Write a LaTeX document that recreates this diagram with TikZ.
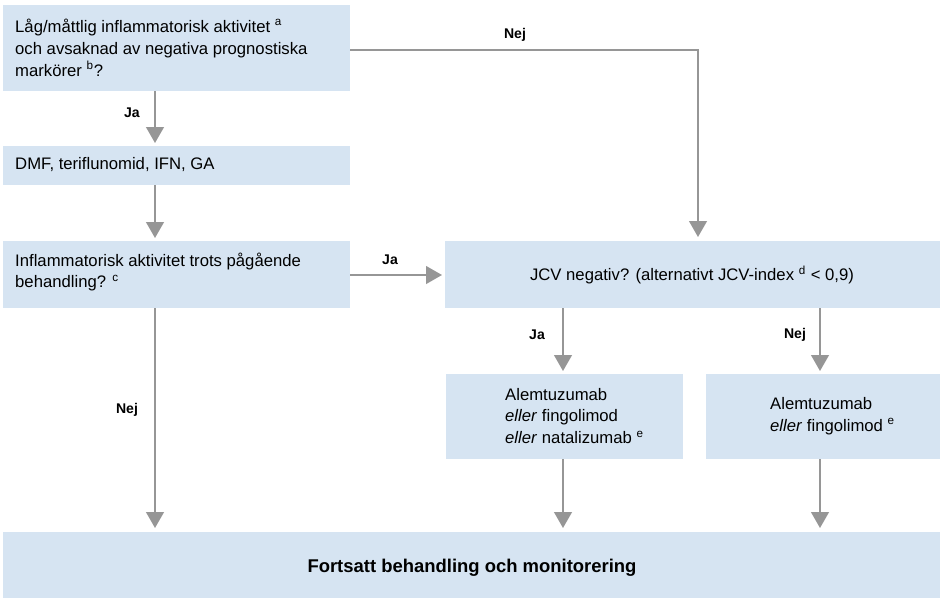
\documentclass[tikz,border=0pt]{standalone}
\usepackage{fontspec}
\setmainfont{Liberation Sans}
\usetikzlibrary{arrows.meta}
\definecolor{boxblue}{RGB}{214,228,242}
\definecolor{arrgray}{RGB}{150,150,150}
\tikzset{box/.style = {fill = boxblue, inner sep = 0},
  txt/.style = {align = left, anchor = west, font = \fontsize{9.5}{12.5}\selectfont},
  arr/.style = {draw = arrgray, line width = 1.1pt, -{Triangle[length = 9pt, width = 10pt]}},
  lab/.style = {font = \fontsize{8}{10}\selectfont\bfseries}}

\begin{document}
\begin{tikzpicture}[x = 0.02cm, y = -0.02cm]
    \useasboundingbox (0, 0) rectangle (943, 606);

    \fill [boxblue] (3, 5) rectangle (350, 91);
    \fill [boxblue] (3, 146) rectangle (350, 185);
    \fill [boxblue] (3, 241) rectangle (350, 308);
    \fill [boxblue] (445, 241) rectangle (940, 308);
    \fill [boxblue] (446, 374) rectangle (683, 459);
    \fill [boxblue] (706, 374) rectangle (940, 459);
    \fill [boxblue] (3, 532) rectangle (940, 598);

    \node [txt] (q1) at (9, 48) {Låg/måttlig inflammatorisk aktivitet \textsuperscript{a}\\och avsaknad av negativa prognostiska\\markörer \textsuperscript{b}?};
    \node [txt] (t1) at (9, 165) {DMF, teriflunomid, IFN, GA};
    \node [txt] (q2) at (9, 272) {Inflammatorisk aktivitet trots pågående\\behandling? \textsuperscript{c}};
    \node [font = \fontsize{9.5}{12.5}\selectfont] (q3) at (692, 275) {JCV negativ? (alternativt JCV-index \textsuperscript{d} < 0,9)};
    \node [txt] (t2) at (499, 416) {Alemtuzumab\\\textit{eller} fingolimod\\\textit{eller} natalizumab \textsuperscript{e}};
    \node [txt] (t3) at (764, 416) {Alemtuzumab\\\textit{eller} fingolimod \textsuperscript{e}};
    \node [font = \fontsize{10.5}{12.5}\selectfont\bfseries] (end) at (472, 568) {Fortsatt behandling och monitorering};

    \coordinate (a1) at (155, 91);
    \coordinate (a2) at (155, 143);
    \coordinate (b1) at (155, 185);
    \coordinate (b2) at (155, 238);
    \coordinate (c1) at (155, 308);
    \coordinate (c2) at (155, 528);
    \coordinate (n1) at (350, 50);
    \coordinate (n2) at (698, 50);
    \coordinate (n3) at (698, 237);
    \coordinate (j1) at (350, 275);
    \coordinate (j2) at (442, 275);
    \coordinate (d1) at (563, 308);
    \coordinate (d2) at (563, 371);
    \coordinate (d3) at (820, 308);
    \coordinate (d4) at (820, 371);
    \coordinate (e1) at (563, 459);
    \coordinate (e2) at (563, 528);
    \coordinate (f1) at (820, 459);
    \coordinate (f2) at (820, 528);

    \draw [arr] (a1) -- (a2);
    \draw [arr] (b1) -- (b2);
    \draw [arr] (c1) -- (c2);
    \draw [arr] (n1) -- (n2) -- (n3);
    \draw [arr] (j1) -- (j2);
    \draw [arr] (d1) -- (d2);
    \draw [arr] (d3) -- (d4);
    \draw [arr] (e1) -- (e2);
    \draw [arr] (f1) -- (f2);

    \node [lab] at (132, 113) {Ja};
    \node [lab] at (127, 410) {Nej};
    \node [lab] at (515, 35) {Nej};
    \node [lab] at (390, 260) {Ja};
    \node [lab] at (537, 335) {Ja};
    \node [lab] at (795, 335) {Nej};
\end{tikzpicture}
\end{document}
